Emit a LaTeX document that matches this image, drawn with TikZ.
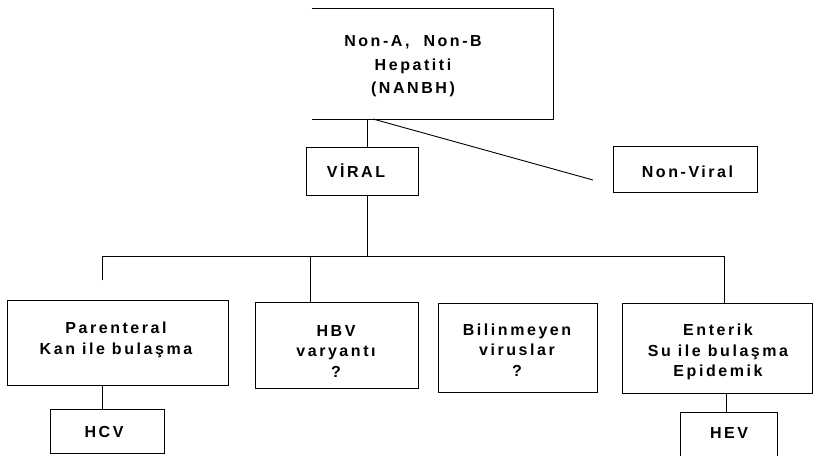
\documentclass[tikz,border=0pt]{standalone}
\usepackage{fontspec}
\setmainfont{Liberation Sans}[LetterSpace=16]
\begin{document}
\begin{tikzpicture}[x=1pt,y=-1pt,
  every node/.style={inner sep=0pt},
  box/.style={draw, line width=0.9pt},
  txt/.style={align=center, font=\fontsize{16}{20.5}\selectfont\bfseries},
  link/.style={line width=0.9pt}]
\useasboundingbox (0,0) rectangle (816,455);
\clip (0,0) rectangle (816,455);

% frames
\node[minimum width=241pt, minimum height=110pt] (nanbh) at (432.5,64) {};
\draw[box] (nanbh.north west) -- (nanbh.north east)
  -- (nanbh.south east) -- (nanbh.south west);
\node[box, minimum width=112pt, minimum height=48pt] (viral) at (362,171) {};
\node[box, minimum width=144pt, minimum height=46pt] (nonviral) at (685,169) {};
\node[box, minimum width=221pt, minimum height=85pt] (par) at (117.5,342.5) {};
\node[box, minimum width=163pt, minimum height=86pt] (hbv) at (336.5,345) {};
\node[box, minimum width=159pt, minimum height=89pt] (bil) at (517.5,347.5) {};
\node[box, minimum width=190pt, minimum height=90pt] (ent) at (717,348) {};
\node[box, minimum width=114pt, minimum height=44pt] (hcv) at (107,431) {};
\node[box, minimum width=97pt, minimum height=60pt] (hev) at (728.5,442) {};

% labels
\node[txt, font=\fontsize{16}{23.5}\selectfont\bfseries] (nanbh-t) at (413,66.5)
  {Non-A,\ \ Non-B\\Hepatiti\\(NANBH)};
\node[txt] (viral-t) at (356,171) {VİRAL};
\node[txt] (nonviral-t) at (687.5,172) {Non-Viral};
\node[txt] (par-t) at (116,340) {Parenteral\\Kan ile bulaşma};
\node[txt] (hbv-t) at (336,351) {HBV\\varyantı\\?};
\node[txt] (bil-t) at (517,350) {Bilinmeyen\\viruslar\\?};
\node[txt] (ent-t) at (718,352) {Enterik\\Su ile bulaşma\\Epidemik};
\node[txt] (hcv-t) at (104,432) {HCV};
\node[txt] (hev-t) at (729,433) {HEV};

% connector ends and x positions
\coordinate (xv) at (367,0);
\coordinate (xl) at (102,0);
\coordinate (xh) at (310,0);
\coordinate (xe) at (724,0);
\coordinate (xev) at (726,0);
\coordinate (bus) at (367,256);
\coordinate (parstub) at (102,280);
\coordinate (diagstart) at (373,119);
\coordinate (diagend) at (593,180);

% connectors
\draw[link] (nanbh.south -| xv) -- (viral.north -| xv);
\draw[link] (diagstart) -- (diagend);
\draw[link] (viral.south -| xv) -- (bus);
\draw[link] (parstub) -- (bus -| xl) -- (bus -| xe) -- (ent.north -| xe);
\draw[link] (bus -| xh) -- (hbv.north -| xh);
\draw[link] (par.south -| xl) -- (hcv.north -| xl);
\draw[link] (ent.south -| xev) -- (hev.north -| xev);
\end{tikzpicture}
\end{document}
